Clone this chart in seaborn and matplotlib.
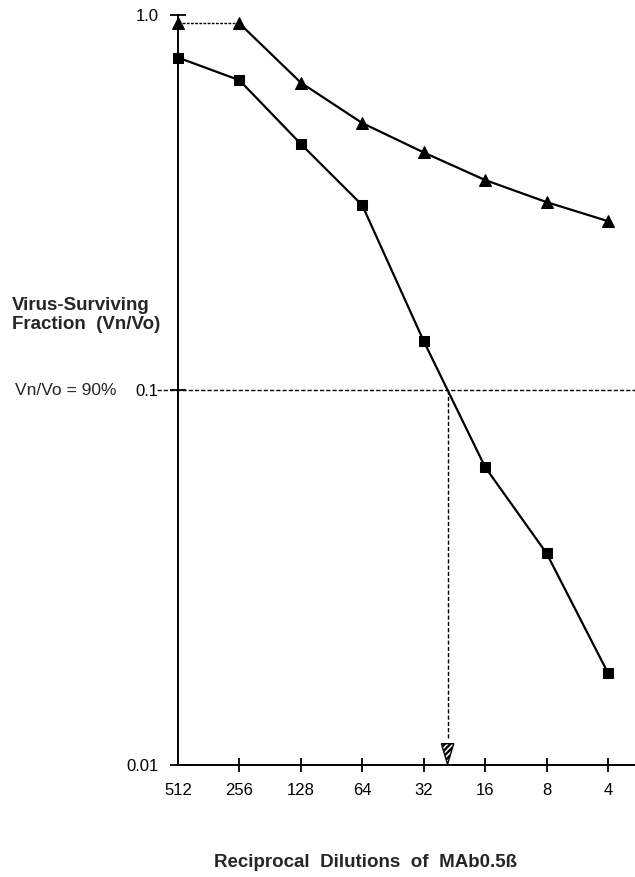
import matplotlib
matplotlib.use("Agg")
import matplotlib.pyplot as plt
import matplotlib.transforms as mtransforms
import numpy as np
import pandas as pd
import seaborn as sns

# Data
dilutions = ['512', '256', '128', '64', '32', '16', '8', '4']
triangle_vals = [0.95, 0.95, 0.66, 0.515, 0.43, 0.363, 0.317, 0.282]
square_vals = [0.77, 0.67, 0.453, 0.311, 0.135, 0.0623, 0.0367, 0.0176]
threshold = 0.1

sns.set_theme(style='white')
plt.rcParams['font.family'] = ['Liberation Sans', 'DejaVu Sans']
plt.rcParams['hatch.linewidth'] = 1.7

pos = np.arange(len(dilutions))
df_tri = pd.DataFrame({'pos': pos, 'frac': triangle_vals})
df_sq = pd.DataFrame({'pos': pos, 'frac': square_vals})

fig = plt.figure(figsize=(6.35, 8.77), dpi=100)
ax = fig.add_axes([0.2803, 0.1277, 0.7197, 0.8552])

# first triangle segment is drawn thin / dotted in the original
sns.lineplot(data=df_tri.iloc[:2], x='pos', y='frac', ax=ax, color='black',
             linewidth=1.0, linestyle=(0, (2, 1)))
sns.lineplot(data=df_tri.iloc[1:], x='pos', y='frac', ax=ax, color='black',
             linewidth=1.6, marker='^', markersize=9, markeredgecolor='black')
sns.lineplot(data=df_tri.iloc[:1], x='pos', y='frac', ax=ax, color='black',
             marker='^', markersize=9, markeredgecolor='black', clip_on=False)
sns.lineplot(data=df_sq, x='pos', y='frac', ax=ax, color='black',
             linewidth=1.6, marker='s', markersize=7.5, markeredgecolor='black',
             clip_on=False)

ax.set_yscale('log')
ax.set_ylim(0.01, 1.0)
ax.set_xlim(0, 7.44)

# 90% neutralisation line and where the square curve crosses it
ax.axhline(threshold, xmin=-0.045, xmax=1, color='black', linewidth=1.0,
           linestyle=(0, (3, 1.5)), clip_on=False)
logs = np.log10(square_vals)
cross = np.interp(np.log10(threshold), logs[::-1], pos[::-1])
ax.vlines(cross, 0.0118, threshold, color='black', linewidth=1.0,
          linestyle=(0, (3, 1.5)))
head = [(-0.6, 1.0), (0.6, 1.0), (0.0, -1.0), (-0.6, 1.0)]
ax.scatter([cross], [0.0107], marker=head, s=220, facecolor='white',
           edgecolor='black', hatch='//////', linewidth=1.0, zorder=5,
           clip_on=False)

for side in ['top', 'right']:
    ax.spines[side].set_visible(False)
for side in ['left', 'bottom']:
    ax.spines[side].set_linewidth(1.4)
    ax.spines[side].set_color('black')

ax.set_xticks(pos)
ax.set_xticklabels(dilutions)
ax.set_yticks([0.01, 0.1, 1.0])
ax.set_yticklabels(['0.01', '0.1', '1.0'])
ax.minorticks_off()
ax.tick_params(axis='x', direction='inout', length=10, width=1.3, pad=8,
               labelsize=12, colors='black', bottom=True)
ax.tick_params(axis='y', direction='inout', length=12, width=1.3, pad=8,
               labelsize=12, colors='black', left=True)
ax.get_xticklines()[0].set_visible(False)
ax.set_xlabel('')
ax.set_ylabel('')

trans = mtransforms.blended_transform_factory(fig.transFigure, ax.transData)
fig.text(0.019, 0.641, 'Virus-Surviving\nFraction  (Vn/Vo)', fontsize=13.5,
         fontweight='bold', va='center', ha='left', linespacing=1.2)
ax.text(0.024, threshold, 'Vn/Vo = 90%', transform=trans, fontsize=12.5,
        va='center', ha='left')
fig.text(0.575, 0.017, 'Reciprocal  Dilutions  of  MAb0.5ß', fontsize=13.5,
         fontweight='bold', ha='center', va='center')

fig.savefig('out.png', dpi=100)
